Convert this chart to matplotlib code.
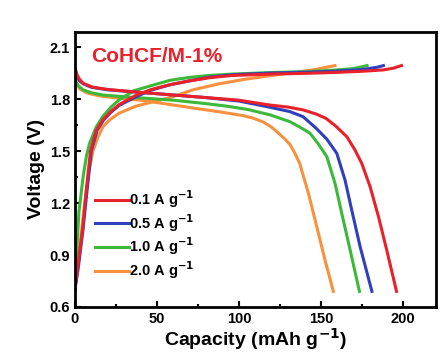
import matplotlib.pyplot as plt

plt.rcParams['font.family'] = ['Liberation Sans', 'DejaVu Sans']
plt.rcParams['font.weight'] = 'bold'
plt.rcParams['mathtext.default'] = 'bf'

# discharge curves (capacity mAh/g, voltage V)
dis_01_cap = [0, 1, 2.5, 5, 11, 20, 40, 60, 80, 100, 118, 130, 139, 147, 153, 159, 165.7, 170.5, 174.8, 179.9, 185, 190, 196]
dis_01_v = [1.99, 1.95, 1.92, 1.893, 1.87, 1.857, 1.84, 1.825, 1.81, 1.795, 1.768, 1.755, 1.739, 1.715, 1.69, 1.645, 1.584, 1.51, 1.43, 1.295, 1.122, 0.93, 0.69]
dis_05_cap = [0, 1, 2.5, 5, 10, 20, 40, 60, 80, 100, 119, 131, 139, 147, 153.5, 159.6, 164.6, 168.7, 173.8, 181]
dis_05_v = [1.98, 1.94, 1.91, 1.89, 1.87, 1.855, 1.84, 1.825, 1.81, 1.79, 1.754, 1.729, 1.70, 1.633, 1.57, 1.488, 1.334, 1.16, 0.949, 0.69]
dis_10_cap = [0, 2, 5, 10, 17, 30, 45, 60, 80, 93, 106, 119, 131, 137, 143.3, 148.5, 153.5, 158.5, 162.6, 167.7, 173.4]
dis_10_v = [1.91, 1.88, 1.855, 1.838, 1.825, 1.815, 1.805, 1.795, 1.775, 1.76, 1.74, 1.71, 1.671, 1.64, 1.604, 1.54, 1.469, 1.315, 1.142, 0.93, 0.69]
dis_20_cap = [0, 3, 8, 15, 27, 40, 58, 72, 90, 103, 109, 115, 120, 124, 128, 131, 134, 137, 142.3, 147.4, 152.4, 157.5]
dis_20_v = [1.91, 1.86, 1.835, 1.82, 1.806, 1.795, 1.77, 1.75, 1.725, 1.705, 1.69, 1.668, 1.638, 1.605, 1.57, 1.54, 1.49, 1.43, 1.257, 1.064, 0.872, 0.69]

# charge curves
chg_01_cap = [0, 2, 4.7, 7, 9.5, 13, 17, 22, 27, 37.6, 46, 58, 70, 82, 96, 120, 140, 157, 175, 188, 194, 199]
chg_01_v = [0.70, 0.85, 1.05, 1.28, 1.50, 1.62, 1.68, 1.73, 1.77, 1.825, 1.855, 1.885, 1.907, 1.925, 1.938, 1.946, 1.95, 1.955, 1.962, 1.97, 1.98, 1.995]
chg_05_cap = [0, 2, 5, 7.5, 10, 13.5, 17.5, 22, 27, 38, 46, 58, 70, 82, 96, 120, 140, 157, 175, 184, 188]
chg_05_v = [0.70, 0.82, 1.05, 1.28, 1.50, 1.62, 1.68, 1.725, 1.765, 1.818, 1.852, 1.884, 1.907, 1.928, 1.942, 1.952, 1.956, 1.962, 1.972, 1.985, 1.995]
chg_10_cap = [0, 1, 2.5, 5, 7, 9, 13, 17, 22, 27, 36, 48, 58, 70, 82, 96, 120, 140, 157, 170, 178]
chg_10_v = [0.70, 0.90, 1.15, 1.35, 1.47, 1.546, 1.64, 1.70, 1.755, 1.797, 1.85, 1.883, 1.91, 1.927, 1.938, 1.946, 1.955, 1.96, 1.968, 1.978, 1.995]
chg_20_cap = [0, 3, 6, 8.5, 11, 14, 17, 21, 27, 37, 48, 58, 72, 88, 103, 118, 133, 145, 158.5]
chg_20_v = [0.70, 0.95, 1.20, 1.38, 1.50, 1.58, 1.64, 1.68, 1.72, 1.76, 1.787, 1.81, 1.855, 1.89, 1.915, 1.935, 1.955, 1.97, 1.995]

labels = ['0.1 A g$^{-1}$', '0.5 A g$^{-1}$', '1.0 A g$^{-1}$', '2.0 A g$^{-1}$']
colors = ['#e8212a', '#2f3fbf', '#3cb83a', '#f7913d']

dis = [(dis_01_cap, dis_01_v), (dis_05_cap, dis_05_v), (dis_10_cap, dis_10_v), (dis_20_cap, dis_20_v)]
chg = [(chg_01_cap, chg_01_v), (chg_05_cap, chg_05_v), (chg_10_cap, chg_10_v), (chg_20_cap, chg_20_v)]

fig = plt.figure(figsize=(4.43, 3.54), dpi=100)
ax = fig.add_axes([0.169, 0.133, 0.815, 0.777])

# draw in reverse so red ends up on top
for i in [3, 2, 1, 0]:
    ax.plot(chg[i][0], chg[i][1], color=colors[i], lw=2.2, solid_joinstyle='round')
    ax.plot(dis[i][0], dis[i][1], color=colors[i], lw=2.2, solid_joinstyle='round', label=labels[i])

ax.set_xlim(0, 220)
ax.set_ylim(0.6, 2.19)
ax.set_xticks([0, 50, 100, 150, 200])
ax.set_xticks([25, 75, 125, 175], minor=True)
ax.set_yticks([0.6, 0.9, 1.2, 1.5, 1.8, 2.1])
ax.set_yticks([0.75, 1.05, 1.35, 1.65, 1.95], minor=True)
ax.tick_params(which='both', direction='in', width=1.5, labelsize=10.5)
ax.tick_params(which='major', length=4)
ax.tick_params(which='minor', length=2.5)
for s in ax.spines.values():
    s.set_linewidth(2)

ax.set_xlabel('Capacity (mAh g$^{-1}$)', fontsize=14, fontweight='bold', labelpad=0)
ax.set_ylabel('Voltage (V)', fontsize=14, fontweight='bold', labelpad=3)
ax.text(0.045, 0.945, 'CoHCF/M-1%', transform=ax.transAxes, color='#e8212a',
        fontsize=15, fontweight='bold', va='top')

h, l = ax.get_legend_handles_labels()
ax.legend(h[::-1], l[::-1], loc='upper left', bbox_to_anchor=(0.02, 0.48), frameon=False,
          fontsize=10.5, handlelength=2.3, labelspacing=0.15, handletextpad=0.05)

fig.savefig('out.png', dpi=100)
